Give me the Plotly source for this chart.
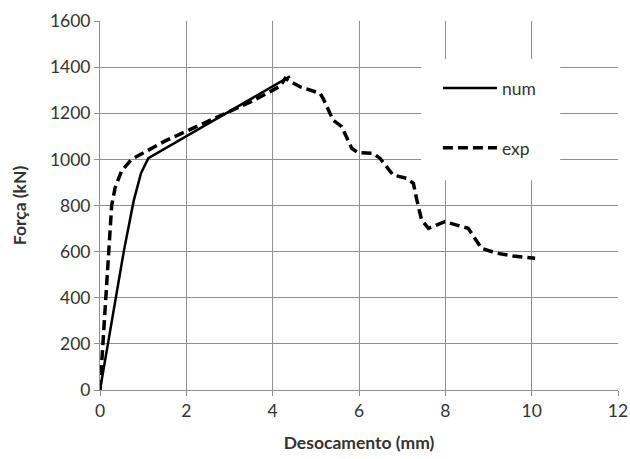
import plotly.graph_objects as go

# numerical curve
num_x = [0, 0.18, 0.55, 0.78, 0.95, 1.12, 4.4]
num_y = [0, 200, 600, 820, 940, 1005, 1360]

# experimental curve
exp_x = [0, 0.05, 0.12, 0.19, 0.27, 0.35, 0.5, 0.73, 1.08, 1.5, 2.5, 3.5, 4.17, 4.29,
         4.63, 5.10, 5.17, 5.40, 5.60, 5.71, 5.83, 5.98, 6.33, 6.49, 6.79, 7.10, 7.26,
         7.34, 7.45, 7.61, 7.99, 8.53, 8.65, 8.84, 9.19, 9.57, 10.08]
exp_y = [0, 150, 400, 600, 800, 877, 950, 1000, 1036, 1079, 1165, 1250, 1317, 1351,
         1315, 1286, 1264, 1170, 1142, 1098, 1048, 1029, 1026, 1004, 932, 918, 896,
         824, 737, 701, 730, 701, 665, 614, 593, 581, 571]

x_ticks = [0, 2, 4, 6, 8, 10, 12]
y_ticks = [0, 200, 400, 600, 800, 1000, 1200, 1400, 1600]

FONT = "Lato"
GRID = "#8f8f8f"
TXT = "#333333"

fig = go.Figure()
fig.add_trace(go.Scatter(x=num_x, y=num_y, mode="lines", name="num", legendgroup="a",
                         line=dict(color="black", width=2.5)))
fig.add_trace(go.Scatter(x=exp_x, y=exp_y, mode="lines", name="exp", legendgroup="b",
                         line=dict(color="black", width=3.5, dash="10px,5px")))

# white legend box covering the grid
fig.add_shape(type="rect", xref="x", yref="y", x0=7.44, x1=10.66, y0=910, y1=1435,
              fillcolor="white", line=dict(width=0), layer="above")

fig.update_layout(
    width=630, height=459,
    margin=dict(l=100, r=12, t=21, b=69, autoexpand=False),
    paper_bgcolor="white", plot_bgcolor="white",
    font=dict(family=FONT, size=17.5, color=TXT),
    showlegend=True,
    legend=dict(x=0.6524, y=0.867, xanchor="left", yanchor="top",
                bgcolor="rgba(0,0,0,0)", tracegroupgap=34,
                font=dict(family=FONT, size=17.5, color=TXT),
                itemwidth=54),
    xaxis=dict(range=[0, 12], tickvals=x_ticks, showgrid=True, gridcolor=GRID, gridwidth=1,
               showline=True, linecolor=GRID, linewidth=1, ticks="outside", ticklen=5,
               tickcolor=GRID, zeroline=False, automargin=False,
               title=dict(text="<b>Desocamento (mm)</b>", font=dict(size=17.5, color=TXT),
                          standoff=16)),
    yaxis=dict(range=[0, 1600], tickvals=y_ticks, showgrid=True, gridcolor=GRID, gridwidth=1,
               showline=True, linecolor=GRID, linewidth=1, ticks="outside", ticklen=5,
               tickcolor=GRID, zeroline=False, automargin=False,
               title=dict(text="<b>Força (kN)</b>", font=dict(size=17.5, color=TXT),
                          standoff=18)),
)

fig.write_html("out.html")
